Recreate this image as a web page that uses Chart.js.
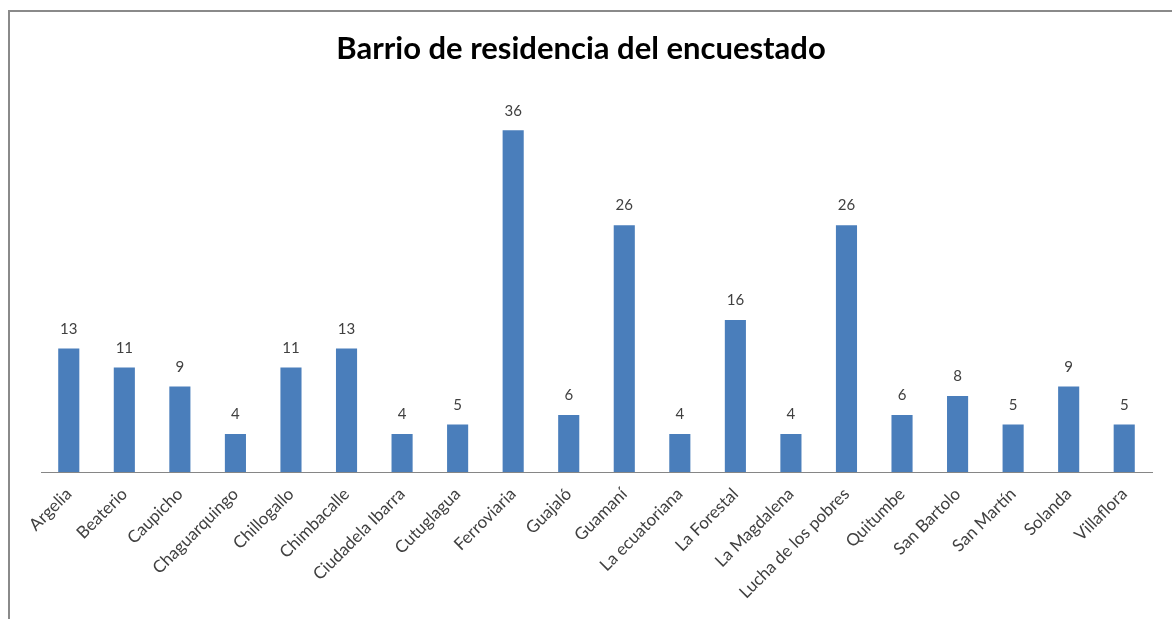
<!DOCTYPE html>
<html>
<head>
<meta charset="utf-8">
<script src="https://cdn.jsdelivr.net/npm/chart.js@4/dist/chart.umd.min.js"></script>
<style>
html,body{margin:0;padding:0;background:#fff;}
#wrap{position:relative;width:1172px;height:619px;}
</style>
</head>
<body>
<div id="wrap"><canvas id="c" width="1172" height="619"></canvas></div>
<script>
const categories = ["Argelia","Beaterio","Caupicho","Chaguarquingo","Chillogallo","Chimbacalle","Ciudadela Ibarra","Cutuglagua","Ferroviaria","Guajaló","Guamaní","La ecuatoriana","La Forestal","La Magdalena","Lucha de los pobres","Quitumbe","San Bartolo","San Martín","Solanda","Villaflora"];
const counts = [13,11,9,4,11,13,4,5,36,6,26,4,16,4,26,6,8,5,9,5];
const chartTitle = "Barrio de residencia del encuestado";

const frame = {
  id: 'frame',
  beforeDraw(chart) {
    const ctx = chart.ctx;
    ctx.save();
    ctx.strokeStyle = '#8a8a8a';
    ctx.lineWidth = 2;
    ctx.beginPath();
    ctx.moveTo(9, 619);
    ctx.lineTo(9, 11);
    ctx.lineTo(1172, 11);
    ctx.stroke();
    ctx.restore();
  }
};

const valueLabels = {
  id: 'valueLabels',
  afterDatasetsDraw(chart) {
    const ctx = chart.ctx;
    ctx.save();
    ctx.font = '15px Lato, "Open Sans", sans-serif';
    ctx.fillStyle = '#404040';
    ctx.textAlign = 'center';
    ctx.textBaseline = 'bottom';
    const meta = chart.getDatasetMeta(0);
    meta.data.forEach((bar, i) => {
      ctx.fillText(String(chart.data.datasets[0].data[i]), bar.x, bar.y - 12);
    });
    ctx.restore();
  }
};

new Chart(document.getElementById('c'), {
  type: 'bar',
  data: {
    labels: categories,
    datasets: [{
      data: counts,
      backgroundColor: '#4A7EBB',
      borderWidth: 0,
      barPercentage: 0.38,
      categoryPercentage: 1.0
    }]
  },
  options: {
    responsive: false,
    animation: false,
    layout: { padding: { left: 10, right: 20, top: 0, bottom: 0 } },
    plugins: {
      legend: { display: false },
      tooltip: { enabled: false },
      title: {
        display: true,
        text: chartTitle,
        color: '#000',
        font: { family: 'Lato, "Open Sans", sans-serif', size: 31, weight: 'bold' },
        padding: { top: 30, bottom: 25 }
      }
    },
    scales: {
      x: {
        grid: { display: false, drawTicks: false },
        border: { display: true, color: '#868686', width: 1 },
        ticks: {
          autoSkip: false,
          maxRotation: 45,
          minRotation: 45,
          color: '#404040',
          padding: 12,
          font: { family: 'Lato, "Open Sans", sans-serif', size: 17 }
        },
        afterFit(scale) { scale.height = 147; }
      },
      y: {
        display: true,
        min: 0,
        max: 40,
        grid: { display: false, drawTicks: false },
        border: { display: false },
        ticks: { display: false },
        afterFit(scale) { scale.width = 31; }
      }
    }
  },
  plugins: [frame, valueLabels]
});
</script>
</body>
</html>
